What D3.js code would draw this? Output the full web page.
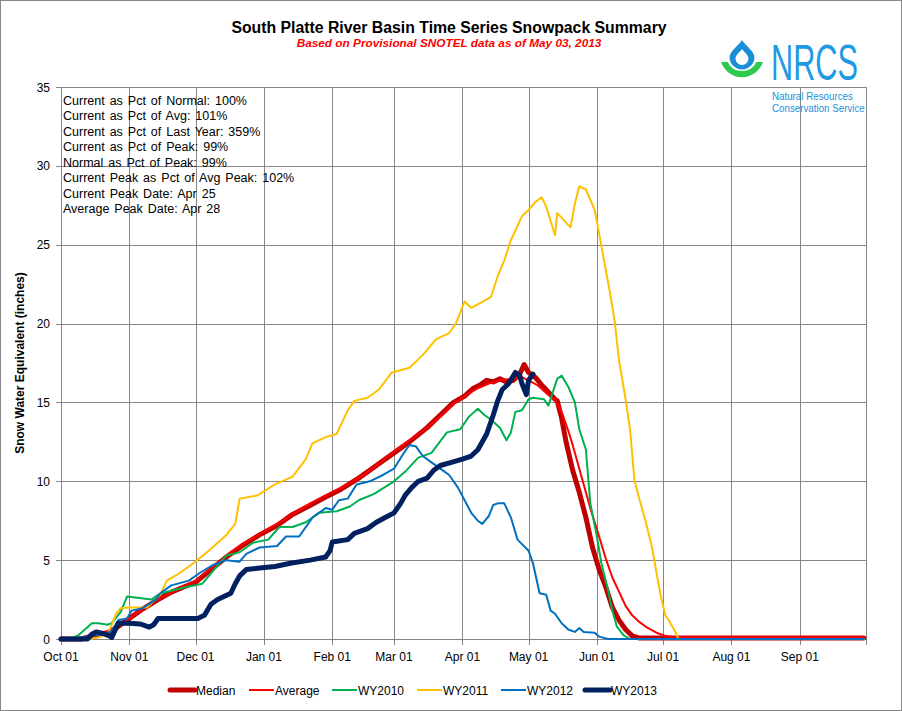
<!DOCTYPE html>
<html>
<head>
<meta charset="utf-8">
<script src="https://cdn.jsdelivr.net/npm/d3@7/dist/d3.min.js"></script>
<style>
  html, body { margin: 0; padding: 0; background: #fff; }
  svg { display: block; }
  text { font-family: "Liberation Sans", Arial, sans-serif; }
</style>
</head>
<body>
<svg id="chart" width="902" height="711"></svg>
<script>
// ---------- DATA ----------
const monthLabels = ["Oct 01","Nov 01","Dec 01","Jan 01","Feb 01","Mar 01","Apr 01","May 01","Jun 01","Jul 01","Aug 01","Sep 01"];
const yTicks = [0, 5, 10, 15, 20, 25, 30, 35];
const seriesNames = ["Median","Average","WY2010","WY2011","WY2012","WY2013"];
const statLines = [
  "Current as Pct of Normal: 100%",
  "Current as Pct of Avg: 101%",
  "Current as Pct of Last Year: 359%",
  "Current as Pct of Peak: 99%",
  "Normal as Pct of Peak: 99%",
  "Current Peak as Pct of Avg Peak: 102%",
  "Current Peak Date: Apr 25",
  "Average Peak Date: Apr 28"
];

const median = [["10-01",0],["10-10",0],["10-14",0.15],["10-18",0.3],["10-22",0.4],["10-26",0.7],["10-29",1.0],["11-01",1.3],["11-07",1.9],["11-14",2.5],["11-19",2.9],["11-24",3.2],["12-01",3.6],["12-08",4.4],["12-15",5.2],["12-22",5.9],["12-30",6.6],["01-07",7.2],["01-14",7.9],["01-21",8.4],["01-29",9.0],["02-05",9.5],["02-13",10.2],["02-21",11.0],["03-01",11.8],["03-08",12.5],["03-16",13.4],["03-22",14.2],["03-28",15.0],["04-02",15.4],["04-06",15.9],["04-09",16.1],["04-12",16.4],["04-15",16.3],["04-18",16.5],["04-21",16.3],["04-24",16.4],["04-27",16.8],["04-29",17.4],["05-01",16.9],["05-04",16.6],["05-07",16.1],["05-09",15.8],["05-11",15.5],["05-13",15.2],["05-14",15.1],["05-16",14.0],["05-18",12.5],["05-21",10.7],["05-24",9.3],["05-27",7.7],["05-30",5.8],["06-02",4.4],["06-05",3.3],["06-08",2.0],["06-11",1.2],["06-14",0.6],["06-17",0.2],["06-20",0.07],["09-30",0.07]];

const average = [["10-01",0],["10-10",0.05],["10-15",0.2],["10-20",0.35],["10-25",0.65],["11-01",1.3],["11-08",2.0],["11-15",2.6],["11-22",3.1],["12-01",3.7],["12-08",4.5],["12-15",5.3],["12-22",6.0],["01-01",6.8],["01-08",7.4],["01-15",8.0],["01-22",8.6],["02-01",9.3],["02-08",9.8],["02-15",10.4],["02-22",11.1],["03-01",11.9],["03-08",12.6],["03-15",13.3],["03-22",14.1],["03-28",14.9],["04-03",15.5],["04-08",15.9],["04-13",16.2],["04-18",16.4],["04-23",16.5],["04-28",16.6],["05-01",16.4],["05-05",16.1],["05-09",15.6],["05-13",15.1],["05-16",14.4],["05-19",13.2],["05-21",12.3],["05-23",11.3],["05-26",9.8],["05-29",8.3],["06-02",6.5],["06-05",5.1],["06-08",3.9],["06-11",3.0],["06-14",2.1],["06-17",1.5],["06-20",1.1],["06-24",0.7],["06-28",0.4],["07-02",0.2],["07-05",0.12],["09-30",0.1]];

const wy2010 = [["10-01",0],["10-05",0],["10-09",0.25],["10-15",1.0],["10-18",1.0],["10-22",0.9],["10-24",1.0],["10-28",1.7],["10-31",2.7],["11-11",2.5],["11-14",2.8],["11-18",3.0],["11-27",3.3],["12-04",3.5],["12-10",4.5],["12-15",5.3],["12-21",5.5],["12-27",6.1],["01-03",6.3],["01-08",7.1],["01-14",7.1],["01-20",7.4],["01-26",8.0],["02-03",8.1],["02-09",8.4],["02-13",8.8],["02-20",9.2],["03-01",10.0],["03-06",10.6],["03-12",11.5],["03-18",11.8],["03-25",13.1],["03-31",13.3],["04-04",14.1],["04-08",14.6],["04-11",14.2],["04-14",13.9],["04-18",13.4],["04-21",12.6],["04-23",13.1],["04-25",14.4],["04-28",14.5],["05-01",15.2],["05-03",15.3],["05-08",15.2],["05-10",14.8],["05-14",16.5],["05-16",16.7],["05-19",16.0],["05-22",15.0],["05-24",13.3],["05-27",12.0],["05-28",10.3],["05-29",8.6],["06-01",6.5],["06-03",4.8],["06-06",3.1],["06-08",1.8],["06-10",0.8],["06-13",0.25],["06-16",0],["09-30",0]];

const wy2011 = [["10-01",0],["10-14",0],["10-18",0.1],["10-22",0.3],["10-24",0.9],["10-26",1.6],["10-28",1.95],["11-01",2.0],["11-05",2.0],["11-09",2.0],["11-15",2.8],["11-18",3.7],["11-24",4.2],["11-30",4.8],["12-07",5.6],["12-15",6.6],["12-19",7.3],["12-21",8.9],["12-29",9.1],["01-06",9.8],["01-14",10.3],["01-20",11.4],["01-23",12.4],["01-29",12.8],["02-03",13.0],["02-08",14.5],["02-11",15.1],["02-17",15.3],["02-22",15.8],["02-28",16.9],["03-08",17.2],["03-14",18.0],["03-20",19.0],["03-26",19.4],["03-29",20.0],["03-31",20.7],["04-02",21.4],["04-05",21.0],["04-09",21.3],["04-14",21.7],["04-17",23.0],["04-20",24.0],["04-23",25.3],["04-28",26.8],["05-01",27.2],["05-04",27.7],["05-07",28.0],["05-09",27.4],["05-13",25.6],["05-14",27.0],["05-20",26.1],["05-22",27.6],["05-24",28.7],["05-27",28.5],["05-31",27.2],["06-02",25.7],["06-05",23.4],["06-07",21.9],["06-09",20.2],["06-11",17.7],["06-14",15.2],["06-16",13.3],["06-18",10.1],["06-20",9.0],["06-23",7.5],["06-26",5.8],["06-28",4.2],["06-30",2.7],["07-02",1.5],["07-03",1.3],["07-06",0.6],["07-08",0],["09-30",0]];

const wy2012 = [["10-01",0],["10-08",0],["10-10",0.1],["10-15",0.2],["10-20",0.3],["10-24",0.5],["10-27",1.2],["10-31",1.3],["11-02",1.8],["11-07",1.95],["11-13",2.5],["11-15",2.9],["11-20",3.4],["11-28",3.7],["12-03",4.2],["12-09",4.7],["12-15",5.0],["12-21",4.9],["12-24",5.4],["12-30",5.8],["01-07",5.9],["01-11",6.5],["01-17",6.5],["01-23",7.7],["01-29",8.3],["02-01",8.2],["02-04",8.8],["02-08",8.9],["02-12",9.8],["02-18",10.0],["02-24",10.4],["03-01",10.8],["03-05",11.7],["03-08",12.3],["03-11",12.2],["03-14",11.6],["03-18",11.2],["03-22",10.8],["03-26",10.4],["03-30",9.6],["04-02",8.8],["04-05",8.0],["04-08",7.5],["04-10",7.3],["04-13",7.8],["04-15",8.5],["04-17",8.6],["04-20",8.6],["04-23",7.7],["04-26",6.3],["05-01",5.6],["05-03",4.8],["05-06",2.9],["05-09",2.8],["05-11",1.8],["05-13",1.6],["05-16",1.0],["05-19",0.6],["05-22",0.45],["05-24",0.7],["05-26",0.45],["05-31",0.4],["06-02",0.15],["06-06",0],["09-30",0]];

const wy2013 = [["10-01",0],["10-13",0],["10-15",0.3],["10-17",0.45],["10-20",0.35],["10-23",0.2],["10-24",0.1],["10-27",1.0],["11-01",1.0],["11-06",0.95],["11-10",0.75],["11-12",0.9],["11-14",1.3],["11-30",1.3],["12-02",1.3],["12-05",1.5],["12-08",2.2],["12-11",2.5],["12-17",2.9],["12-19",3.5],["12-21",4.0],["12-24",4.4],["12-30",4.5],["01-06",4.6],["01-13",4.8],["01-22",5.0],["01-29",5.2],["01-31",5.6],["02-01",6.15],["02-08",6.3],["02-11",6.7],["02-17",7.0],["02-21",7.4],["02-25",7.7],["03-01",8.0],["03-04",8.6],["03-06",9.1],["03-09",9.6],["03-12",10.0],["03-16",10.2],["03-19",10.7],["03-22",11.0],["03-27",11.2],["04-01",11.4],["04-05",11.6],["04-08",12.0],["04-12",13.0],["04-15",14.2],["04-17",15.1],["04-19",15.8],["04-22",16.2],["04-25",16.9],["04-27",16.7],["04-28",16.2],["04-30",15.5],["05-01",16.4],["05-03",16.8]];

// ---------- LAYOUT ----------
const svg = d3.select("#chart");
const W = 902, H = 711;
const L = 61, R = 866, T = 87, B = 639;
const gridColor = "#868686";

const parse = s => { const [m, d] = s.split("-").map(Number); return new Date(m >= 10 ? 2012 : 2013, m - 1, d); };
const x = d3.scaleTime().domain([new Date(2012, 9, 1), new Date(2013, 9, 1)]).range([L, R]);
const y = d3.scaleLinear().domain([0, 35]).range([B, T]);

svg.append("rect").attr("x", 0.5).attr("y", 0.5).attr("width", W - 1).attr("height", H - 1)
  .attr("fill", "#fff").attr("stroke", "#888");

// grid
const monthDates = d3.timeMonth.range(new Date(2012, 9, 1), new Date(2013, 9, 2));
svg.append("g").selectAll("line").data(yTicks).join("line")
  .attr("x1", L - 5).attr("x2", R).attr("y1", d => Math.round(y(d)) + 0.5).attr("y2", d => Math.round(y(d)) + 0.5)
  .attr("stroke", gridColor).attr("stroke-width", 1);
svg.append("g").selectAll("line").data(monthDates).join("line")
  .attr("x1", d => Math.round(x(d)) + 0.5).attr("x2", d => Math.round(x(d)) + 0.5)
  .attr("y1", T).attr("y2", B + 6)
  .attr("stroke", gridColor).attr("stroke-width", 1);

// axes labels
svg.append("g").selectAll("text").data(yTicks).join("text")
  .attr("x", 50).attr("y", d => y(d) + 4.5).attr("text-anchor", "end")
  .attr("font-size", 12).attr("fill", "#000").text(d => d);
svg.append("g").selectAll("text").data(monthLabels).join("text")
  .attr("x", (d, i) => x(monthDates[i])).attr("y", 661).attr("text-anchor", "middle")
  .attr("font-size", 12).attr("fill", "#000").text(d => d);

svg.append("text").attr("transform", "translate(24,363) rotate(-90)")
  .attr("text-anchor", "middle").attr("font-size", 12).attr("font-weight", "bold").text("Snow Water Equivalent (inches)");

// titles
svg.append("text").attr("x", 449).attr("y", 33).attr("text-anchor", "middle")
  .attr("font-size", 15.8).attr("font-weight", "bold").text("South Platte River Basin Time Series Snowpack Summary");
svg.append("text").attr("x", 449).attr("y", 47).attr("text-anchor", "middle")
  .attr("font-size", 11.8).attr("font-weight", "bold").attr("font-style", "italic").attr("fill", "#FF0000")
  .text("Based on Provisional SNOTEL data as of May 03, 2013");

// stats
svg.append("g").selectAll("text").data(statLines).join("text")
  .attr("x", 63).attr("y", (d, i) => 104.5 + i * 15.5).attr("font-size", 12.5).attr("word-spacing", 1.5)
  .attr("fill", "#000").text(d => d);

// series
const styles = {
  Median: { data: median, color: "#C00000", w: 5 },
  Average: { data: average, color: "#FF0000", w: 2 },
  WY2010: { data: wy2010, color: "#00B050", w: 2 },
  WY2011: { data: wy2011, color: "#FFC000", w: 2 },
  WY2012: { data: wy2012, color: "#0070C0", w: 2 },
  WY2013: { data: wy2013, color: "#002060", w: 5 }
};
const line = d3.line().x(d => x(parse(d[0]))).y(d => y(d[1]));
seriesNames.forEach(n => {
  const s = styles[n];
  svg.append("path").attr("d", line(s.data)).attr("fill", "none")
    .attr("stroke", s.color).attr("stroke-width", s.w)
    .attr("stroke-linejoin", "round").attr("stroke-linecap", "round");
});

// legend
const legendX = [170, 249, 332, 417, 501, 585];
const lg = svg.append("g");
seriesNames.forEach((n, i) => {
  const s = styles[n];
  lg.append("line").attr("x1", legendX[i]).attr("x2", legendX[i] + 25).attr("y1", 690).attr("y2", 690)
    .attr("stroke", s.color).attr("stroke-width", s.w).attr("stroke-linecap", s.w > 3 ? "round" : "butt");
  lg.append("text").attr("x", legendX[i] + 26).attr("y", 694.5).attr("font-size", 12).text(n);
});

// NRCS logo
const logo = svg.append("g");
const cx = 742;
logo.append("path")
  .attr("d", `M${cx},40 C${cx+3},45 ${cx+12},51 ${cx+12.5},57 A12.5,12.5 0 1,1 ${cx-12.5},57 C${cx-12},51 ${cx-3},45 ${cx},40 Z`)
  .attr("fill", "#1a8fd6");
logo.append("path")
  .attr("d", `M${cx},49 C${cx+2},52 ${cx+6.5},55 ${cx+6.5},58.5 A6.5,6.5 0 1,1 ${cx-6.5},58.5 C${cx-6.5},55 ${cx-2},52 ${cx},49 Z`)
  .attr("fill", "#fff");
logo.append("path")
  .attr("d", `M${cx-20.9},62 A22,22 0 0,0 ${cx+20.9},62 L${cx+14.4},62 A16,16 0 0,1 ${cx-14.4},62 Z`)
  .attr("fill", "#2ec94f");

function fitText(sel, targetW) {
  const w = sel.node().getComputedTextLength();
  const tx = +sel.attr("data-x"), ty = +sel.attr("data-y");
  sel.attr("transform", `translate(${tx},${ty}) scale(${targetW / w},1)`);
}
const nrcs = logo.append("text").attr("data-x", 771).attr("data-y", 80).attr("font-size", 50)
  .attr("fill", "#1f9ae3").text("NRCS");
fitText(nrcs, 87);
const nr1 = logo.append("text").attr("data-x", 772).attr("data-y", 100).attr("font-size", 10.5)
  .attr("fill", "#1a90dc").text("Natural Resources");
fitText(nr1, 81);
const nr2 = logo.append("text").attr("data-x", 772).attr("data-y", 112).attr("font-size", 10.5)
  .attr("fill", "#1a90dc").text("Conservation Service");
fitText(nr2, 93);
</script>
</body>
</html>
